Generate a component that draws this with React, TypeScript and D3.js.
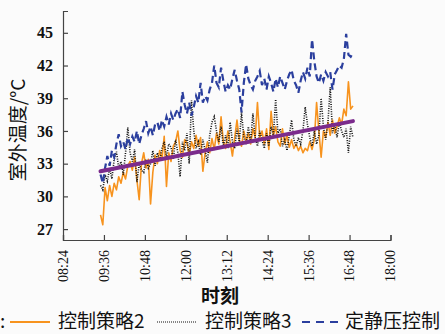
import React, { useRef, useEffect } from "react";
import * as d3 from "d3";

// sampling: every 4 minutes starting at 09:30
const startTime = "09:30";
const stepMin = 4;

const strategy2 = [
  28.3, 27.4, 30.8, 29.6, 31.0, 30.0, 31.2, 30.6, 31.8, 31.2, 32.2, 31.6, 32.8, 33.2, 32.4, 33.6,
  31.5, 29.7, 33.0, 34.0, 32.6, 33.4, 29.3, 32.2, 33.8, 33.0, 34.2, 33.4, 35.5, 30.9, 34.0, 33.2,
  34.6, 35.0, 36.0, 34.2, 33.6, 35.2, 34.9, 33.8, 35.0, 34.4, 35.6, 34.6, 35.4, 32.3, 34.0, 35.0,
  34.0, 35.3, 34.3, 35.8, 34.8, 37.3, 35.0, 34.4, 36.0, 35.0, 33.7, 35.4, 37.0, 35.2, 34.6, 36.0,
  35.0, 35.8, 34.8, 36.2, 35.4, 38.6, 35.4, 36.0, 34.8, 36.2, 34.3, 37.8, 35.6, 36.4, 35.0, 34.6,
  36.2, 34.8, 35.6, 34.5, 35.2, 34.4, 34.8, 34.2, 34.6, 34.0, 34.4, 34.2, 35.0, 34.3, 35.2, 38.6,
  36.0, 33.6, 36.0, 35.4, 36.8, 35.6, 37.0, 35.8, 36.4, 37.2, 36.6, 38.0, 37.4, 40.5, 38.0, 38.3,
];

const strategy3 = [
  31.0, 30.6, 32.0, 31.4, 32.6, 31.6, 33.4, 34.1, 32.6, 33.2, 32.0, 34.0, 36.3, 34.0, 33.2, 34.3,
  31.3, 33.0, 32.4, 32.2, 33.4, 32.6, 33.0, 34.2, 32.8, 34.0, 33.2, 34.4, 35.0, 33.6, 34.8, 34.5,
  33.4, 35.2, 34.0, 31.8, 35.0, 34.2, 35.8, 33.0, 38.8, 36.0, 34.4, 35.0, 33.8, 35.2, 34.2, 33.1,
  35.6, 36.8, 37.3, 36.0, 35.0, 36.4, 34.6, 35.6, 34.4, 36.8, 35.0, 34.4, 36.2, 35.0, 37.7, 35.4,
  34.8, 36.4, 35.0, 37.6, 35.4, 34.6, 36.0, 35.2, 34.4, 35.8, 34.6, 36.4, 35.6, 38.9, 35.8, 36.2,
  34.6, 35.2, 34.2, 35.6, 37.0, 35.2, 34.6, 35.4, 34.8, 36.0, 38.2, 36.6, 35.4, 34.6, 36.0, 34.8,
  35.6, 39.0, 36.4, 35.2, 36.8, 40.0, 35.8, 36.6, 35.4, 36.8, 36.0, 35.4, 36.2, 34.0, 36.4, 35.4,
];

const constantPressure = [
  32.0, 31.2, 32.6, 33.7, 32.8, 34.2, 33.6, 34.8, 35.7, 34.6, 35.0, 34.3, 35.4, 34.8, 35.5, 35.0,
  36.0, 34.8, 35.6, 36.2, 36.9, 35.8, 36.4, 35.6, 36.6, 36.8, 36.0, 37.0, 36.4, 37.3, 36.6, 37.6,
  37.0, 37.6, 38.0, 37.2, 39.6, 38.4, 37.6, 38.6, 37.4, 38.2, 39.2, 38.6, 40.4, 38.6, 39.2, 38.8,
  39.8, 40.4, 42.0, 40.4, 40.0, 41.8, 40.6, 39.6, 40.2, 39.8, 40.8, 41.6, 40.6, 39.8, 37.7, 40.4,
  42.1, 40.8, 40.2, 39.8, 40.6, 41.0, 41.5, 40.2, 40.8, 39.8, 41.0, 40.4, 39.6, 40.8, 40.0, 41.0,
  40.4, 39.8, 40.6, 41.2, 41.6, 40.6, 40.2, 39.5, 40.6, 41.4, 40.8, 41.8, 41.0, 44.4, 42.4, 41.0,
  40.4, 41.2, 40.6, 41.4, 41.0, 41.4, 39.8, 41.2, 41.6, 42.0, 41.8, 42.6, 44.9, 43.0, 42.8, 43.2,
];

const trendTimes = ["09:30", "16:54"];
const trendValues = [32.3, 36.9];

const xTicks = ["08:24", "09:36", "10:48", "12:00", "13:12", "14:24", "15:36", "16:48", "18:00"];
const yTicks = [27, 30, 33, 36, 39, 42, 45];

const legendNames = ["控制策略2", "控制策略3", "定静压控制"];

const toMin = (s: string) => {
  const [h, m] = s.split(":").map(Number);
  return h * 60 + m;
};

export default function App() {
  const svgRef = useRef<SVGSVGElement>(null);

  useEffect(() => {
    const svg = d3.select(svgRef.current);
    svg.selectAll("*").remove();

    const serif = "'Liberation Serif', 'Times New Roman', serif";
    const cjk = "'Noto Sans CJK SC', sans-serif";

    svg.append("rect").attr("width", 445).attr("height", 334).attr("fill", "#fbfbfb");

    //scales
    const x = d3.scaleLinear().domain([toMin("08:24"), toMin("18:00")]).range([63, 390.5]);
    const y = d3.scaleLinear().domain([26, 47]).range([240, 11]);

    const t0 = toMin(startTime);
    const line = d3
      .line<number>()
      .x((d, i) => x(t0 + i * stepMin))
      .y((d) => y(d));

    //axes
    const xAxis = d3
      .axisBottom(x)
      .tickValues(xTicks.map(toMin))
      .tickSize(-5)
      .tickFormat(() => "");
    const gx = svg.append("g").attr("transform", "translate(0,240)").call(xAxis);
    gx.selectAll("path, line").attr("stroke", "#444").attr("stroke-width", 1.2);

    const yAxis = d3.axisLeft(y).tickValues(yTicks).tickSize(-5).tickPadding(10);
    const gy = svg.append("g").attr("transform", "translate(63,0)").call(yAxis);
    gy.selectAll("path, line").attr("stroke", "#444").attr("stroke-width", 1.2);
    gy.selectAll("text")
      .attr("font-family", serif)
      .attr("font-size", 16)
      .attr("font-weight", "bold")
      .attr("fill", "#111");

    //rotated x tick labels
    svg
      .selectAll(".xlab")
      .data(xTicks)
      .join("text")
      .attr("class", "xlab")
      .attr("transform", (d) => `translate(${x(toMin(d))},250) rotate(-90)`)
      .attr("text-anchor", "end")
      .attr("dy", "0.35em")
      .attr("font-family", serif)
      .attr("font-size", 14)
      .attr("fill", "#111")
      .text((d) => d);

    //series
    svg
      .append("path")
      .attr("d", line(strategy2))
      .attr("fill", "none")
      .attr("stroke", "#f7931e")
      .attr("stroke-width", 1.6)
      .attr("stroke-linejoin", "round");
    svg
      .append("path")
      .attr("d", line(strategy3))
      .attr("fill", "none")
      .attr("stroke", "#111")
      .attr("stroke-width", 1.6)
      .attr("stroke-dasharray", "1,1.4");
    svg
      .append("path")
      .attr("d", line(constantPressure))
      .attr("fill", "none")
      .attr("stroke", "#2b3f9e")
      .attr("stroke-width", 2.2)
      .attr("stroke-dasharray", "7,4");

    //trend
    svg
      .append("line")
      .attr("x1", x(toMin(trendTimes[0])))
      .attr("y1", y(trendValues[0]))
      .attr("x2", x(toMin(trendTimes[1])))
      .attr("y2", y(trendValues[1]))
      .attr("stroke", "#7b2b8c")
      .attr("stroke-width", 4)
      .attr("stroke-linecap", "round");

    //titles
    svg
      .append("text")
      .attr("transform", "translate(18,130) rotate(-90)")
      .attr("text-anchor", "middle")
      .attr("dy", "0.35em")
      .attr("font-family", cjk)
      .attr("font-size", 19)
      .attr("fill", "#111")
      .text("室外温度/°C");
    svg
      .append("text")
      .attr("x", 220)
      .attr("y", 303)
      .attr("text-anchor", "middle")
      .attr("font-family", cjk)
      .attr("font-weight", "bold")
      .attr("font-size", 19)
      .attr("fill", "#111")
      .text("时刻");

    //legend
    const ly = 322;
    svg.append("text").attr("x", 0).attr("y", 328).attr("font-family", cjk).attr("font-size", 19).attr("fill", "#111").text(":");
    const items = [
      { x1: 10, x2: 50, tx: 58, stroke: "#f7931e", dash: null, w: 2 },
      { x1: 157, x2: 197, tx: 205, stroke: "#111", dash: "1,1", w: 1.2 },
      { x1: 302, x2: 341, tx: 345, stroke: "#2b3f9e", dash: "8,6", w: 2.2 },
    ];
    items.forEach((it, i) => {
      svg
        .append("line")
        .attr("x1", it.x1)
        .attr("x2", it.x2)
        .attr("y1", ly)
        .attr("y2", ly)
        .attr("stroke", it.stroke)
        .attr("stroke-width", it.w)
        .attr("stroke-dasharray", it.dash);
      svg
        .append("text")
        .attr("x", it.tx)
        .attr("y", 328)
        .attr("font-family", cjk)
        .attr("font-size", 19)
        .attr("fill", "#111")
        .text(legendNames[i]);
    });
  }, []);

  return (
    <svg
      ref={svgRef}
      width={445}
      height={334}
      style={{ position: "absolute", left: 0, top: 0 }}
    />
  );
}
